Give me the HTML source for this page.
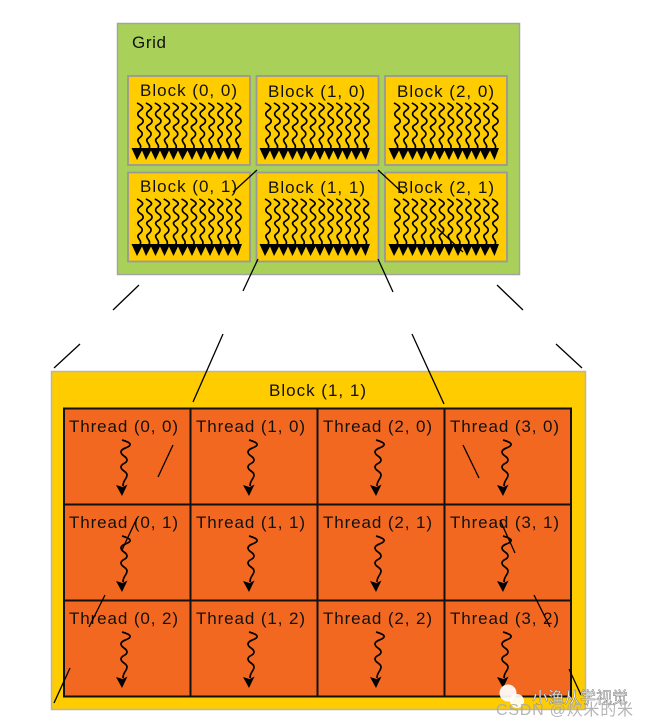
<!DOCTYPE html>
<html>
<head>
<meta charset="utf-8">
<style>
html,body{margin:0;padding:0;background:#fff;width:648px;height:727px;overflow:hidden}
svg{display:block}
text{font-family:"Liberation Sans","Noto Sans CJK SC",sans-serif;font-size:17px;fill:#111}
.b{fill:#ffcc00;stroke:#999;stroke-width:1.800}
.t{fill:#f36821;stroke:#111;stroke-width:2}
.d{stroke:#000;stroke-width:1.300;fill:none}
.s{fill:none;stroke:#000;stroke-width:1.700}
</style>
</head>
<body>
<svg width="648" height="727" viewBox="0 0 648 727" xmlns="http://www.w3.org/2000/svg">
<defs>
<path id="w" class="s" d="M0 0C4 2 7 4 5 6C3 8 0 9 1 12C2 15 7 15 6 19C5 22 0 22 1 25C2 28 6 28 5 32C4 35 0 35 1 38C2 41 5 42 3 46"/>
<g id="bk">
<use href="#w" x="0"/><use href="#w" x="8.900"/><use href="#w" x="17.800"/><use href="#w" x="26.700"/>
<use href="#w" x="35.600"/><use href="#w" x="44.500"/><use href="#w" x="53.400"/><use href="#w" x="62.300"/>
<use href="#w" x="71.200"/><use href="#w" x="80.100"/><use href="#w" x="89"/><use href="#w" x="97.900"/>
<path fill="#000" d="M-5.500 45H105L100.500 57L96 47.500L91 57L86.500 47.500L82 57L77.500 47.500L73 57L68.500 47.500L64 57L59.500 47.500L55 57L50.500 47.500L45.500 57L41 47.500L36.500 57L32 47.500L27.500 57L23 47.500L18.500 57L14 47.500L9 57L5 47.500L0 57Z"/>
</g>
<g id="th">
<path class="s" d="M0 0C4 1 9 3 8 5C7 8 -1 8 -1 12C-1 16 5 16 5 20C5 24 -1 23 -1 27C-1 31 5 31 5 35C5 39 1 40 1 46"/>
<path fill="#000" d="M-6 45L0.500 47L5.500 44.500L0 56Z"/>
</g>
</defs>

<rect x="117.500" y="23.500" width="402" height="251" fill="#a9d15a" stroke="#a3a3a3" stroke-width="1.500"/>
<text x="132" y="48" textLength="34" lengthAdjust="spacing">Grid</text>

<rect class="b" x="128" y="76" width="122" height="89"/>
<rect class="b" x="256.500" y="76" width="122" height="89"/>
<rect class="b" x="385" y="76" width="122" height="89"/>
<rect class="b" x="128" y="172.500" width="122" height="89"/>
<rect class="b" x="256.500" y="172.500" width="122" height="89"/>
<rect class="b" x="385" y="172.500" width="122" height="89"/>

<text x="140" y="96" textLength="97" lengthAdjust="spacing">Block (0, 0)</text>
<text x="268" y="97" textLength="97" lengthAdjust="spacing">Block (1, 0)</text>
<text x="397" y="97" textLength="97" lengthAdjust="spacing">Block (2, 0)</text>
<text x="140" y="192" textLength="97" lengthAdjust="spacing">Block (0, 1)</text>
<text x="268" y="193" textLength="97" lengthAdjust="spacing">Block (1, 1)</text>
<text x="397" y="193" textLength="97" lengthAdjust="spacing">Block (2, 1)</text>

<use href="#bk" x="137" y="103"/>
<use href="#bk" x="265" y="103"/>
<use href="#bk" x="394" y="103"/>
<use href="#bk" x="137" y="199"/>
<use href="#bk" x="265" y="199"/>
<use href="#bk" x="394" y="199"/>

<rect x="51.500" y="371.500" width="534" height="338" fill="#ffcc00" stroke="#b5b5b5" stroke-width="1.500"/>
<text x="269" y="396" textLength="97" lengthAdjust="spacing">Block (1, 1)</text>

<rect class="t" x="64" y="408.500" width="126.500" height="96"/>
<rect class="t" x="190.500" y="408.500" width="127" height="96"/>
<rect class="t" x="317.500" y="408.500" width="127" height="96"/>
<rect class="t" x="444.500" y="408.500" width="126.500" height="96"/>
<rect class="t" x="64" y="504.500" width="126.500" height="96"/>
<rect class="t" x="190.500" y="504.500" width="127" height="96"/>
<rect class="t" x="317.500" y="504.500" width="127" height="96"/>
<rect class="t" x="444.500" y="504.500" width="126.500" height="96"/>
<rect class="t" x="64" y="600.500" width="126.500" height="96"/>
<rect class="t" x="190.500" y="600.500" width="127" height="96"/>
<rect class="t" x="317.500" y="600.500" width="127" height="96"/>
<rect class="t" x="444.500" y="600.500" width="126.500" height="96"/>

<text x="69" y="432" textLength="109" lengthAdjust="spacing">Thread (0, 0)</text>
<text x="196" y="432" textLength="109" lengthAdjust="spacing">Thread (1, 0)</text>
<text x="323" y="432" textLength="109" lengthAdjust="spacing">Thread (2, 0)</text>
<text x="450" y="432" textLength="109" lengthAdjust="spacing">Thread (3, 0)</text>
<text x="69" y="528" textLength="109" lengthAdjust="spacing">Thread (0, 1)</text>
<text x="196" y="528" textLength="109" lengthAdjust="spacing">Thread (1, 1)</text>
<text x="323" y="528" textLength="109" lengthAdjust="spacing">Thread (2, 1)</text>
<text x="450" y="528" textLength="109" lengthAdjust="spacing">Thread (3, 1)</text>
<text x="69" y="624" textLength="109" lengthAdjust="spacing">Thread (0, 2)</text>
<text x="196" y="624" textLength="109" lengthAdjust="spacing">Thread (1, 2)</text>
<text x="323" y="624" textLength="109" lengthAdjust="spacing">Thread (2, 2)</text>
<text x="450" y="624" textLength="109" lengthAdjust="spacing">Thread (3, 2)</text>

<use href="#th" x="122" y="440"/>
<use href="#th" x="249" y="440"/>
<use href="#th" x="376" y="440"/>
<use href="#th" x="503" y="440"/>
<use href="#th" x="122" y="536"/>
<use href="#th" x="249" y="536"/>
<use href="#th" x="376" y="536"/>
<use href="#th" x="503" y="536"/>
<use href="#th" x="122" y="632"/>
<use href="#th" x="249" y="632"/>
<use href="#th" x="376" y="632"/>
<use href="#th" x="503" y="632"/>

<path class="d" d="M257 170L233 192M139 285L113 310M80 344L54 368"/>
<path class="d" d="M258 259L243 291M223 334L193 402M173 445L158 477M137 518L122 550M105 595L89 627M70 668L54 703"/>
<path class="d" d="M378 170L404 194M437 228L463 252M497 285L523 310M556 344L582 368"/>
<path class="d" d="M378 259L393 292M412 334L444 404M463 445L479 478M500 520L515 553M534 595L550 627M569 669L581 695"/>

<circle cx="508" cy="693" r="8.500" fill="#fff" fill-opacity=".92"/>
<circle cx="517" cy="701" r="7" fill="#fff" fill-opacity=".92"/>
<text x="532" y="703" textLength="96" lengthAdjust="spacing" style="font-size:16px;fill:#fff;stroke:#777;stroke-width:.5">小渔从学视觉</text>
<text x="496" y="715" textLength="137" lengthAdjust="spacing" style="font-size:16px;fill:#a8a8a8;fill-opacity:.85">CSDN @炊米的米</text>
</svg>
</body>
</html>
